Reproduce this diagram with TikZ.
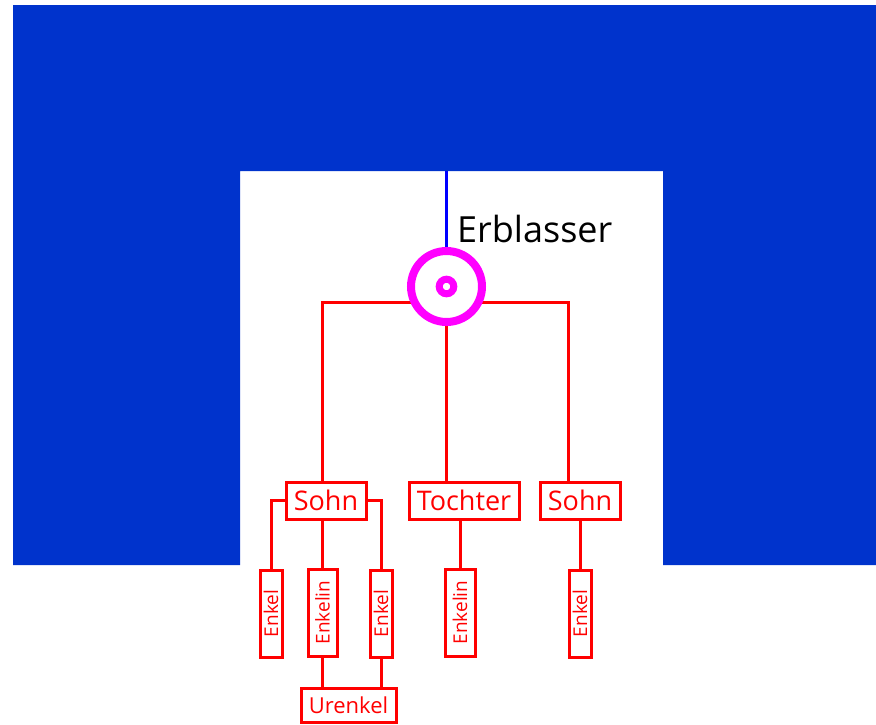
\documentclass[tikz,border=0pt]{standalone}
\usepackage{fontspec}
\setmainfont{Open Sans}
\definecolor{bgblue}{RGB}{0,51,204}
\definecolor{mag}{RGB}{255,0,255}
\begin{document}
\begin{tikzpicture}[x=1pt,y=-1pt,
  redline/.style={draw=red,line width=3pt},
  box/.style={draw=red,line width=3pt,text=red,inner sep=0pt,fill=white},
  hbox/.style={box,minimum height=37pt,font=\fontsize{27}{30}\selectfont},
  vbox/.style={box,rotate=90,minimum width=87pt,font=\fontsize{19}{21}\selectfont}]
\useasboundingbox (0,0) rectangle (876,724);
\fill[bgblue] (13,5) -- (876,5) -- (876,565) -- (663,565) -- (663,171) -- (240,171) -- (240,565) -- (13,565) -- cycle;
% nodes
\node[hbox,minimum width=80pt] (s1) at (326,500.5) {Sohn};
\node[hbox,minimum width=110pt] (t) at (464,500.5) {Tochter};
\node[hbox,minimum width=80pt] (s2) at (580,500.5) {Sohn};
\node[vbox,minimum height=22pt] (e1) at (271,613.5) {Enkel};
\node[vbox,minimum height=29pt] (en1) at (322.5,612.5) {Enkelin};
\node[vbox,minimum height=22pt] (e2) at (381,613.5) {Enkel};
\node[vbox,minimum height=30pt] (en2) at (460,612.5) {Enkelin};
\node[vbox,minimum height=22pt] (e3) at (580,613.5) {Enkel};
\node[box,minimum width=95pt,minimum height=34pt,font=\fontsize{22}{24}\selectfont] (u) at (348.5,705) {Urenkel};
\coordinate (hj) at (446.5,302);
\coordinate (top) at (446.5,171);
% red connectors
\draw[redline] ([xshift=-4pt]s1.north) |- (hj) -| ([xshift=-12pt]s2.north);
\draw[redline] (hj) -- (hj |- t.north);
\draw[redline] (s1.west) -| (e1.east);
\draw[redline] (en1.east |- s1.south) -- (en1.east);
\draw[redline] (s1.east) -| (e2.east);
\draw[redline] (en2.east |- t.south) -- (en2.east);
\draw[redline] (e3.east |- s2.south) -- (e3.east);
\draw[redline] (en1.west) -- (en1.west |- u.north);
\draw[redline] (e2.west) -- (e2.west |- u.north);
% Erblasser
\node[circle,draw=mag,line width=8pt,fill=white,minimum size=71pt,inner sep=0pt] (erb) at (446.5,286.5) {};
\node[circle,draw=mag,line width=7pt,fill=white,minimum size=14.6pt,inner sep=0pt] (erbin) at (erb.center) {};
\draw[draw=blue,line width=3pt] (top) -- (erb.north);
\node[anchor=base west,inner sep=0pt,font=\fontsize{36}{40}\selectfont] (lbl) at (457,242) {Erblasser};
\end{tikzpicture}
\end{document}
